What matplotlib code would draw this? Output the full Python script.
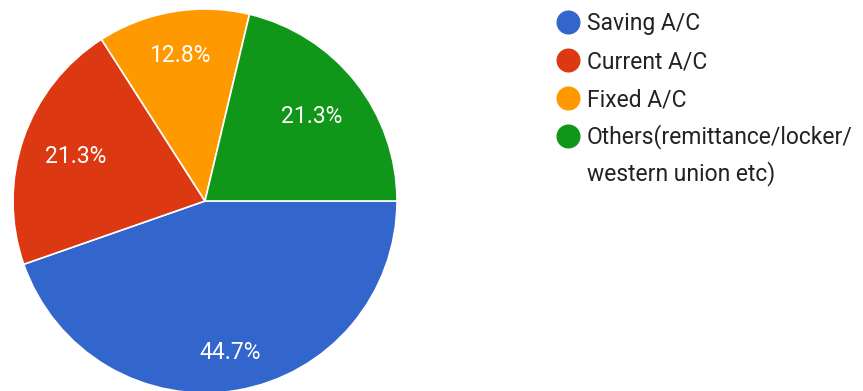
import numpy as np
import matplotlib.pyplot as plt
from matplotlib.lines import Line2D

# account types and their share of responses
labels = ["Saving A/C", "Current A/C", "Fixed A/C",
          "Others(remittance/locker/\nwestern union etc)"]
shares = [44.7, 21.3, 12.8, 21.3]
colors = ["#3366cc", "#dc3912", "#ff9900", "#109618"]
# how far out (fraction of radius) each percentage sits
pct_dist = [0.80, 0.71, 0.77, 0.71]

plt.rcParams['font.family'] = ['Roboto', 'DejaVu Sans']

W, H = 863, 391
fig = plt.figure(figsize=(W / 100, H / 100), dpi=100)
# pie axes sized in pixels so the circle sits at the left
ax = fig.add_axes([13 / W, -2 / H, 384 / W, 384 / H])

wedges, texts, autotexts = ax.pie(
    shares, colors=colors, startangle=0, counterclock=False,
    autopct='%1.1f%%', pctdistance=0.79,
    wedgeprops=dict(edgecolor='white', linewidth=1.2),
    textprops=dict(color='white', fontsize=16.5),
)
# move each percentage along its wedge's bisector
for w, t, d in zip(wedges, autotexts, pct_dist):
    mid = np.deg2rad((w.theta1 + w.theta2) / 2)
    t.set_position((d * np.cos(mid), d * np.sin(mid)))

ax.set_xlim(-1, 1)
ax.set_ylim(-1, 1)
ax.set_aspect('equal')

# legend: dot lined up with the first line of each entry
row_px = 38
line_px = 36
for i, (lab, c) in enumerate(zip(labels, colors)):
    yc = 21.5 + row_px * i
    fig.add_artist(Line2D([568 / W], [1 - yc / H], linestyle='none',
                          marker='o', markersize=16.3,
                          markerfacecolor=c, markeredgecolor=c))
    # 'baseline' pins the last line, so step down for wrapped labels
    base = yc + 8.5 + line_px * lab.count('\n')
    fig.text(587 / W, 1 - base / H, lab, fontsize=16.5,
             color='#222222', va='baseline', ha='left', linespacing=1.58)

fig.savefig('out.png', dpi=100, facecolor='white')
